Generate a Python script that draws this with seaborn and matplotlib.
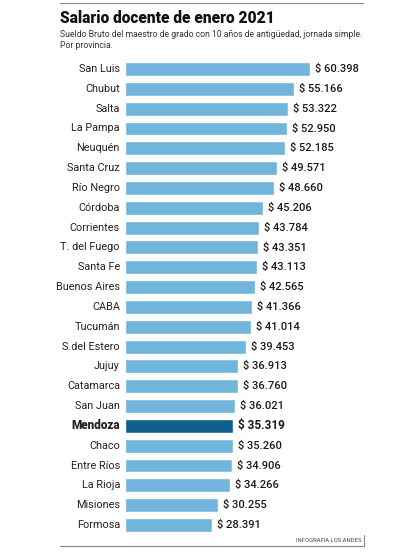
import matplotlib
matplotlib.use("Agg")
import matplotlib.pyplot as plt
import seaborn as sns
import pandas as pd
from matplotlib.lines import Line2D

provincias = ["San Luis", "Chubut", "Salta", "La Pampa", "Neuquén", "Santa Cruz",
              "Río Negro", "Córdoba", "Corrientes", "T. del Fuego", "Santa Fe",
              "Buenos Aires", "CABA", "Tucumán", "S.del Estero", "Jujuy", "Catamarca",
              "San Juan", "Mendoza", "Chaco", "Entre Ríos", "La Rioja", "Misiones", "Formosa"]
valores = [60398, 55166, 53322, 52950, 52185, 49571, 48660, 45206, 43784, 43351, 43113,
           42565, 41366, 41014, 39453, 36913, 36760, 36021, 35319, 35260, 34906, 34266,
           30255, 28391]
etiquetas = ["$ 60.398", "$ 55.166", "$ 53.322", "$ 52.950", "$ 52.185", "$ 49.571",
             "$ 48.660", "$ 45.206", "$ 43.784", "$ 43.351", "$ 43.113", "$ 42.565",
             "$ 41.366", "$ 41.014", "$ 39.453", "$ 36.913", "$ 36.760", "$ 36.021",
             "$ 35.319", "$ 35.260", "$ 34.906", "$ 34.266", "$ 30.255", "$ 28.391"]
destacada = "Mendoza"

df = pd.DataFrame({"prov": provincias, "val": valores})
n = len(provincias)

sns.set_theme(style="white")
plt.rcParams['font.family'] = ['Roboto', 'DejaVu Sans']

W, H = 397, 552
fig = plt.figure(figsize=(W / 100, H / 100), dpi=100)
top_c, bot_c = 69, 525
step = (bot_c - top_c) / (n - 1)
ax_top = top_c - step / 2
ax_bot = bot_c + step / 2
x0, x1 = 125, 363
ax = fig.add_axes([x0 / W, 1 - ax_bot / H, (x1 - x0) / W, (ax_bot - ax_top) / H])

palette = {p: ("#0e5f8c" if p == destacada else "#72b5dc") for p in provincias}
sns.barplot(data=df, x="val", y="prov", hue="prov", palette=palette, legend=False,
            ax=ax, width=0.7, saturation=1, orient="h")

xmax = 60398 * (x1 - x0) / (310 - x0)
ax.set_xlim(0, xmax)
ax.set_ylim(n - 0.5, -0.5)
ax.set_xlabel("")
ax.set_ylabel("")
ax.set_xticks([])
ax.set_yticks([])
for s in ax.spines.values():
    s.set_visible(False)

off = xmax * 5 / (x1 - x0)
for i, (p, v, lab) in enumerate(zip(provincias, valores, etiquetas)):
    bold = p == destacada
    ax.text(v + off, i, lab, va="center", ha="left", fontsize=8.5 if bold else 8,
            fontweight="bold" if bold else "medium", color="#1a1a1a")
    ax.text(-off, i, p, va="center", ha="right", fontsize=8.5 if bold else 7.8,
            fontweight="black" if bold else "normal", color="#222222")

def fy(y):
    return 1 - y / H

def fx(x):
    return x / W

fig.text(fx(60), fy(18), "Salario docente de enero 2021", fontsize=11.2, fontweight="black",
         va="center", ha="left", color="#111111")
fig.text(fx(60), fy(34), "Sueldo Bruto del maestro de grado con 10 años de antigüedad, jornada simple.",
         fontsize=6.2, va="center", ha="left", color="#333333")
fig.text(fx(60), fy(45.5), "Por provincia.", fontsize=6.2, va="center", ha="left", color="#333333")
fig.text(fx(361), fy(541), "INFOGRAFÍA LOS ANDES", fontsize=4.2, va="center", ha="right",
         color="#444444")

fig.add_artist(Line2D([fx(60), fx(363)], [fy(3), fy(3)], color="#888888", lw=0.8))
fig.add_artist(Line2D([fx(60), fx(364)], [fy(546), fy(546)], color="#888888", lw=0.8))
fig.add_artist(Line2D([fx(364), fx(364)], [fy(535), fy(546)], color="#888888", lw=0.8))

fig.savefig("out.png", dpi=100)
